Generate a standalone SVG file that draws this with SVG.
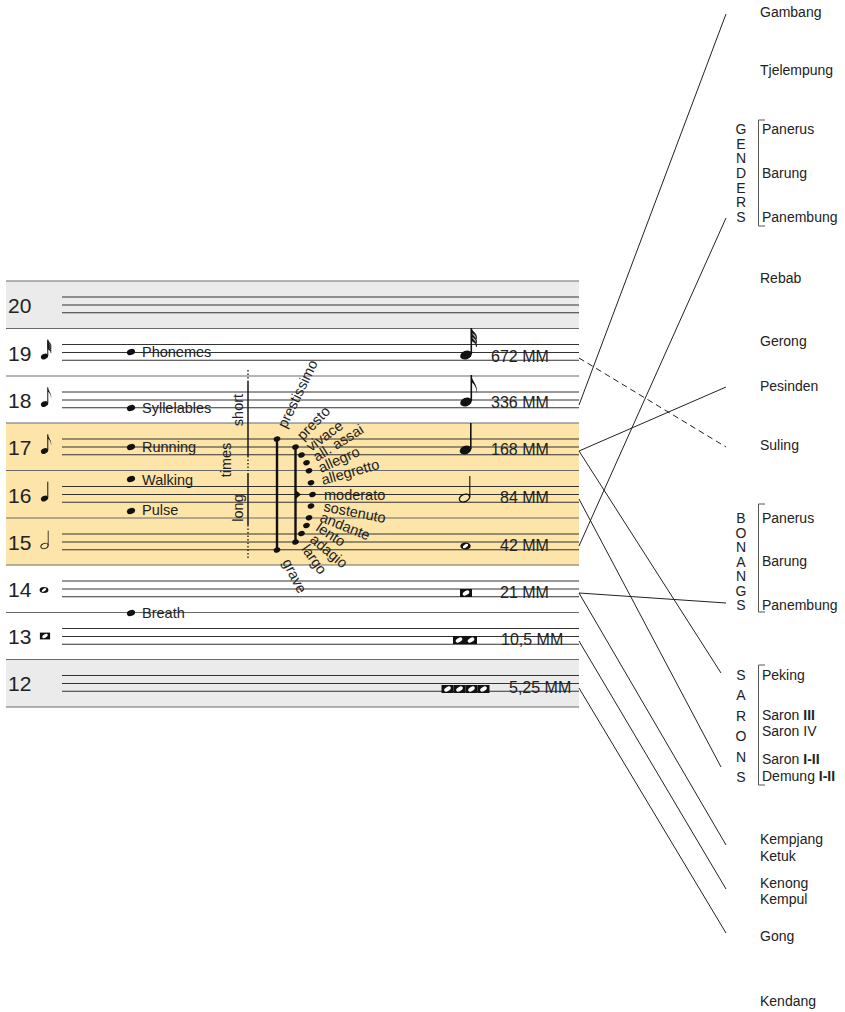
<svg xmlns="http://www.w3.org/2000/svg" xmlns:xlink="http://www.w3.org/1999/xlink" width="845" height="1012" viewBox="0 0 845 1012">
<style>
text{font-family:"Liberation Sans",Arial,sans-serif;fill:#222}
.num{font-size:21px}
.mm{font-size:16px}
.lbl{font-size:14.5px}
.tmp{font-size:14.5px}
.ins{font-size:14px}
.sep{stroke:#6a6a6a;stroke-width:1.2;fill:none}
.st{stroke:#333;stroke-width:1.1;fill:none}
.cn{stroke:#222;stroke-width:1;fill:none}
.br{stroke:#555;stroke-width:1;fill:none}
</style>
<defs>
<g id="nh"><ellipse cx="0" cy="0" rx="6" ry="4.2" transform="rotate(-22)" fill="#111"/></g>
<g id="stem"><line x1="5.3" y1="-1" x2="5.3" y2="-27" stroke="#111" stroke-width="1.6"/></g>
<path id="flag" d="M5.3,-27 C6,-20 12.5,-18 10.5,-8 C10.8,-15 8,-18 5.3,-20 Z" fill="#111"/>
<path id="flagS" d="M5.3,-27 C6,-23 11.5,-22 10.5,-16 C10.2,-20 7.5,-21 5.3,-22.5 Z" fill="#111" stroke="#111" stroke-width="0.6"/>
<g id="n4"><use xlink:href="#nh"/><use xlink:href="#stem"/></g>
<g id="n8"><use xlink:href="#n4"/><use xlink:href="#flag"/></g>
<g id="n32"><use xlink:href="#n4"/><use xlink:href="#flagS"/><use xlink:href="#flagS" transform="translate(0,4)"/><use xlink:href="#flagS" transform="translate(0,8)"/></g>
<g id="n64"><use xlink:href="#n4"/><use xlink:href="#flagS"/><use xlink:href="#flagS" transform="translate(0,3.5)"/><use xlink:href="#flagS" transform="translate(0,7)"/><use xlink:href="#flagS" transform="translate(0,10.5)"/></g>
<g id="n2"><ellipse cx="0" cy="0" rx="5.4" ry="3.6" transform="rotate(-22)" fill="none" stroke="#111" stroke-width="1.3"/><line x1="5.3" y1="-1" x2="5.3" y2="-22" stroke="#111" stroke-width="1.1"/></g>
<g id="n1"><ellipse cx="0" cy="0" rx="5.2" ry="3.6" fill="#111"/><ellipse cx="0" cy="0" rx="3" ry="1.6" transform="rotate(-35)" fill="#fff"/></g>
<g id="brv"><rect x="-6" y="-4" width="12" height="8" fill="#111"/><ellipse cx="0" cy="0" rx="3.6" ry="2" transform="rotate(-30)" fill="#fff"/></g>
<g id="dot"><ellipse cx="0" cy="0" rx="4.2" ry="3" transform="rotate(-20)" fill="#111"/></g>
<g id="sdot"><ellipse cx="0" cy="0" rx="3.4" ry="2.6" transform="rotate(-20)" fill="#111"/></g>
</defs>

<g id="backgrounds">
<rect x="6" y="281" width="573" height="47.5" fill="#ebebeb"/>
<rect x="6" y="423" width="573" height="142" fill="#fde4a8"/>
<rect x="6" y="659.5" width="573" height="47.5" fill="#ebebeb"/>
</g>

<g id="separators" class="sep">
<path d="M6,281H579M6,328.5H579M6,376H579M6,423H579M6,470.5H579M6,518H579M6,565H579M6,612.5H579M6,659.5H579M6,707H579"/>
</g>

<g id="row-20"><path class="st" d="M62,297H579M62,305H579M62,312.7H579"/><text class="num" x="8" y="313">20</text></g>
<g id="row-19"><path class="st" d="M62,344.5H579M62,352.5H579M62,360.2H579"/><text class="num" x="8" y="361">19</text><use xlink:href="#n64" transform="translate(44.5,356.5) scale(0.62)"/></g>
<g id="row-18"><path class="st" d="M62,392H579M62,400H579M62,407.7H579"/><text class="num" x="8" y="408">18</text><use xlink:href="#n8" transform="translate(44.5,404) scale(0.62)"/></g>
<g id="row-17"><path class="st" d="M62,439H579M62,447H579M62,454.7H579"/><text class="num" x="8" y="455">17</text><use xlink:href="#n8" transform="translate(44.5,451) scale(0.62)"/></g>
<g id="row-16"><path class="st" d="M62,486.5H579M62,494.5H579M62,502.2H579"/><text class="num" x="8" y="503">16</text><use xlink:href="#n4" transform="translate(44.5,498.5) scale(0.62)"/></g>
<g id="row-15"><path class="st" d="M62,534H579M62,542H579M62,549.7H579"/><text class="num" x="8" y="550">15</text><use xlink:href="#n2" transform="translate(44.5,546) scale(0.7)"/></g>
<g id="row-14"><path class="st" d="M62,581H579M62,589H579M62,596.7H579"/><text class="num" x="8" y="597">14</text><use xlink:href="#n1" transform="translate(44,590) scale(0.85)"/></g>
<g id="row-13"><path class="st" d="M62,628.5H579M62,636.5H579M62,644.2H579"/><text class="num" x="8" y="644">13</text><use xlink:href="#brv" transform="translate(45,636) scale(0.85)"/></g>
<g id="row-12"><path class="st" d="M62,675.5H579M62,683.5H579M62,691.2H579"/><text class="num" x="8" y="691">12</text></g>

<g id="activities">
<use xlink:href="#dot" x="131" y="352"/><text class="lbl" x="142" y="357">Phonemes</text>
<use xlink:href="#dot" x="131" y="408"/><text class="lbl" x="142" y="413">Syllelables</text>
<use xlink:href="#dot" x="131" y="447"/><text class="lbl" x="142" y="452">Running</text>
<use xlink:href="#dot" x="131" y="479"/><text class="lbl" x="142" y="485">Walking</text>
<use xlink:href="#dot" x="131" y="511"/><text class="lbl" x="142" y="515">Pulse</text>
<use xlink:href="#dot" x="131" y="613"/><text class="lbl" x="142" y="618">Breath</text>
</g>

<g id="times-scale">
<line x1="248" y1="370" x2="248" y2="382" stroke="#222" stroke-width="1.4" stroke-dasharray="1.5 2"/>
<line x1="248" y1="382" x2="248" y2="456" stroke="#222" stroke-width="1.6"/>
<line x1="248" y1="456" x2="248" y2="471" stroke="#222" stroke-width="1.4" stroke-dasharray="1.5 2"/>
<line x1="248" y1="473" x2="248" y2="525" stroke="#222" stroke-width="1.6"/>
<line x1="248" y1="525" x2="248" y2="558" stroke="#222" stroke-width="1.4" stroke-dasharray="1.5 2"/>
<text class="tmp" transform="translate(243,410) rotate(-90)" text-anchor="middle">short</text>
<text class="tmp" transform="translate(231,460) rotate(-90)" text-anchor="middle">times</text>
<text class="tmp" transform="translate(243,508) rotate(-90)" text-anchor="middle">long</text>
</g>

<g id="tempi">
<line x1="277" y1="439" x2="277" y2="550" stroke="#111" stroke-width="2.4"/>
<line x1="295.5" y1="447" x2="295.5" y2="542" stroke="#111" stroke-width="2.4"/>
<path d="M295.5,490 L301,494.5 L295.5,499 Z" fill="#111"/>
<use xlink:href="#sdot" x="277" y="439"/>
<use xlink:href="#sdot" x="277" y="550"/>
<use xlink:href="#sdot" x="295.5" y="447"/>
<use xlink:href="#sdot" x="301.5" y="455"/>
<use xlink:href="#sdot" x="306.5" y="462.7"/>
<use xlink:href="#sdot" x="309" y="470.7"/>
<use xlink:href="#sdot" x="311" y="482.7"/>
<use xlink:href="#sdot" x="312.5" y="494.5"/>
<use xlink:href="#sdot" x="311" y="506"/>
<use xlink:href="#sdot" x="309" y="517.7"/>
<use xlink:href="#sdot" x="306.5" y="525.5"/>
<use xlink:href="#sdot" x="301.5" y="533.5"/>
<use xlink:href="#sdot" x="295.5" y="542"/>
<text class="tmp" transform="translate(286,429) rotate(-64)">prestissimo</text>
<text class="tmp" transform="translate(303,441) rotate(-46)">presto</text>
<text class="tmp" transform="translate(311,452) rotate(-36)">vivace</text>
<text class="tmp" transform="translate(317,462) rotate(-32)">all. assai</text>
<text class="tmp" transform="translate(321,473) rotate(-24)">allegro</text>
<text class="tmp" transform="translate(323,485) rotate(-16)">allegretto</text>
<text class="tmp" transform="translate(324,499.5)">moderato</text>
<text class="tmp" transform="translate(323,511) rotate(11)">sostenuto</text>
<text class="tmp" transform="translate(319,521) rotate(22)">andante</text>
<text class="tmp" transform="translate(315,530) rotate(33)">lento</text>
<text class="tmp" transform="translate(309,541) rotate(40)">adagio</text>
<text class="tmp" transform="translate(301,549) rotate(55)">largo</text>
<text class="tmp" transform="translate(282,562) rotate(63)">grave</text>
</g>

<g id="durations">
<use xlink:href="#n32" transform="translate(466,355)"/><text class="mm" x="491" y="362">672 MM</text>
<use xlink:href="#n8" transform="translate(466,402)"/><text class="mm" x="491" y="408">336 MM</text>
<use xlink:href="#n4" transform="translate(465.5,450)"/><text class="mm" x="491" y="455">168 MM</text>
<use xlink:href="#n2" transform="translate(464.5,498)"/><text class="mm" x="500" y="503">84 MM</text>
<use xlink:href="#n1" transform="translate(465.5,546)"/><text class="mm" x="500" y="551">42 MM</text>
<use xlink:href="#brv" transform="translate(466,593)"/><text class="mm" x="500" y="598">21 MM</text>
<use xlink:href="#brv" transform="translate(459,640)"/><use xlink:href="#brv" transform="translate(471,640)"/><text class="mm" x="501" y="645">10,5 MM</text>
<use xlink:href="#brv" transform="translate(447.5,689)"/><use xlink:href="#brv" transform="translate(459.5,689)"/><use xlink:href="#brv" transform="translate(471.5,689)"/><use xlink:href="#brv" transform="translate(483.5,689)"/><text class="mm" x="509" y="693">5,25 MM</text>
</g>

<g id="connectors" class="cn">
<line x1="579" y1="405" x2="726" y2="14"/>
<line x1="579" y1="546" x2="726" y2="218"/>
<line x1="579" y1="358" x2="726" y2="447" stroke-dasharray="6 4"/>
<line x1="579" y1="451" x2="726" y2="387"/>
<line x1="579" y1="451" x2="721" y2="673"/>
<line x1="579" y1="499" x2="721" y2="767"/>
<line x1="579" y1="593" x2="726" y2="603"/>
<line x1="579" y1="593" x2="726" y2="845"/>
<line x1="579" y1="641" x2="726" y2="889"/>
<line x1="579" y1="688" x2="726" y2="933"/>
</g>

<g id="inst-gambang"><text class="ins" x="760" y="17">Gambang</text></g>
<g id="inst-tjelempung"><text class="ins" x="760" y="75">Tjelempung</text></g>
<g id="inst-genders">
<g text-anchor="middle">
<text class="ins" x="741" y="134">G</text><text class="ins" x="741" y="148.7">E</text><text class="ins" x="741" y="163.3">N</text><text class="ins" x="741" y="178">D</text><text class="ins" x="741" y="192.7">E</text><text class="ins" x="741" y="207.3">R</text><text class="ins" x="741" y="222">S</text>
</g>
<path class="br" d="M765,120H758.5V226H765"/>
<text class="ins" x="762" y="134">Panerus</text>
<text class="ins" x="762" y="178">Barung</text>
<text class="ins" x="762" y="222">Panembung</text>
</g>
<g id="inst-rebab"><text class="ins" x="760" y="283">Rebab</text></g>
<g id="inst-gerong"><text class="ins" x="760" y="346">Gerong</text></g>
<g id="inst-pesinden"><text class="ins" x="760" y="391">Pesinden</text></g>
<g id="inst-suling"><text class="ins" x="760" y="450">Suling</text></g>
<g id="inst-bonangs">
<g text-anchor="middle">
<text class="ins" x="741" y="523">B</text><text class="ins" x="741" y="537.5">O</text><text class="ins" x="741" y="552">N</text><text class="ins" x="741" y="566.5">A</text><text class="ins" x="741" y="581">N</text><text class="ins" x="741" y="595.5">G</text><text class="ins" x="741" y="610">S</text>
</g>
<path class="br" d="M765,504H758.5V612H765"/>
<text class="ins" x="762" y="523">Panerus</text>
<text class="ins" x="762" y="566">Barung</text>
<text class="ins" x="762" y="610">Panembung</text>
</g>
<g id="inst-sarons">
<g text-anchor="middle">
<text class="ins" x="741" y="680">S</text><text class="ins" x="741" y="700.4">A</text><text class="ins" x="741" y="720.8">R</text><text class="ins" x="741" y="741.2">O</text><text class="ins" x="741" y="761.6">N</text><text class="ins" x="741" y="782">S</text>
</g>
<path class="br" d="M765,665H758.5V785H765"/>
<text class="ins" x="762" y="680">Peking</text>
<text class="ins" x="762" y="720">Saron <tspan font-weight="bold">III</tspan></text>
<text class="ins" x="762" y="736">Saron IV</text>
<text class="ins" x="762" y="764">Saron <tspan font-weight="bold">I-II</tspan></text>
<text class="ins" x="762" y="781">Demung <tspan font-weight="bold">I-II</tspan></text>
</g>
<g id="inst-kempjang"><text class="ins" x="760" y="844">Kempjang</text><text class="ins" x="760" y="861">Ketuk</text></g>
<g id="inst-kenong"><text class="ins" x="760" y="888">Kenong</text><text class="ins" x="760" y="904">Kempul</text></g>
<g id="inst-gong"><text class="ins" x="760" y="941">Gong</text></g>
<g id="inst-kendang"><text class="ins" x="760" y="1006">Kendang</text></g>
</svg>
